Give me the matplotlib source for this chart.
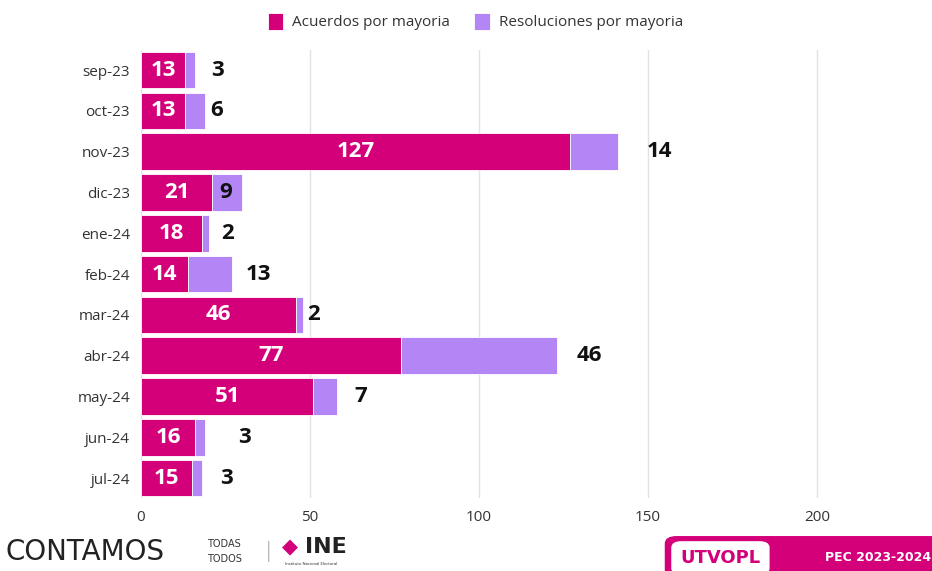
import matplotlib.pyplot as plt
from matplotlib.patches import FancyBboxPatch

months = ['sep-23', 'oct-23', 'nov-23', 'dic-23', 'ene-24', 'feb-24',
          'mar-24', 'abr-24', 'may-24', 'jun-24', 'jul-24']
acuerdos = [13, 13, 127, 21, 18, 14, 46, 77, 51, 16, 15]
resoluciones = [3, 6, 14, 9, 2, 13, 2, 46, 7, 3, 3]
x_ticks = [0, 50, 100, 150, 200]

# pixel nudges for the black labels (they don't sit at a fixed spot in the original)
res_label_dx = [22, 11, 42, -17, 19, 26, 10, 33, 24, 39, 25]

PINK = '#D4007A'
PURPLE = '#B486F5'

plt.rcParams['font.family'] = ['Open Sans', 'DejaVu Sans']

fig = plt.figure(figsize=(9.32, 5.71), dpi=100)
ax = fig.add_axes([141 / 932, 0.127, 1 - 141 / 932, 0.786])

y = list(range(len(months)))
ax.barh(y, acuerdos, height=0.9, color=PINK, edgecolor='white', linewidth=0.6,
        label='Acuerdos por mayoria', zorder=3)
ax.barh(y, resoluciones, left=acuerdos, height=0.9, color=PURPLE,
        edgecolor='white', linewidth=0.6, label='Resoluciones por mayoria', zorder=3)

ax.set_xlim(0, 234)
ax.set_ylim(len(months) - 0.5, -0.5)
ax.set_yticks(y)
ax.set_yticklabels(months, fontsize=11, color='#333333')
ax.set_xticks(x_ticks)
ax.set_xticklabels([str(t) for t in x_ticks], fontsize=11, color='#333333')
ax.tick_params(length=0, pad=8)
ax.grid(axis='x', color='#e2e2e2', linewidth=1, zorder=0)
for s in ax.spines.values():
    s.set_visible(False)

px = 234 / (932 - 141)  # data units per pixel
for i in y:
    ax.text(acuerdos[i] / 2, i, str(acuerdos[i]), ha='center', va='center',
            color='white', fontsize=16, fontweight='bold', zorder=4)
    end = acuerdos[i] + resoluciones[i]
    ax.text(end + res_label_dx[i] * px, i, str(resoluciones[i]), ha='center',
            va='center', color='#111111', fontsize=16, fontweight='bold', zorder=4)

# legend
handles, labels = ax.get_legend_handles_labels()
fig.legend(handles, labels, loc='center', bbox_to_anchor=(0.51, 0.962), ncol=2,
           frameon=False, fontsize=11, handlelength=1.0, handleheight=1.3,
           columnspacing=1.6, handletextpad=0.6, labelcolor='#333333')

# footer
fig.text(0.006, 0.033, 'CONTAMOS', fontsize=20, color='#222222', va='center',
         family='DejaVu Sans')
fig.text(0.222, 0.047, 'TODAS', fontsize=7, color='#333333', va='center',
         family='DejaVu Sans')
fig.text(0.222, 0.021, 'TODOS', fontsize=7, color='#333333', va='center',
         family='DejaVu Sans')
fig.text(0.282, 0.034, '|', fontsize=15, color='#bbbbbb', va='center')
fig.text(0.302, 0.042, '\u25c6', fontsize=15, color=PINK, va='center',
         family='DejaVu Sans')
fig.text(0.327, 0.042, 'INE', fontsize=16, color='#222222', va='center',
         fontweight='bold', family='DejaVu Sans')
fig.text(0.306, 0.012, 'Instituto Nacional Electoral', fontsize=3, color='#222222',
         va='center')

box = FancyBboxPatch((0.714, -0.01), 0.3, 0.07, boxstyle='round,pad=0,rounding_size=0.012',
                     transform=fig.transFigure, facecolor=PINK, edgecolor=PINK,
                     clip_on=False)
fig.patches.append(box)
inner = FancyBboxPatch((0.721, -0.005), 0.104, 0.056,
                       boxstyle='round,pad=0,rounding_size=0.01',
                       transform=fig.transFigure, facecolor='white', edgecolor='white')
fig.patches.append(inner)
fig.text(0.773, 0.023, 'UTVOPL', fontsize=13, color=PINK, fontweight='bold',
         ha='center', va='center', family='DejaVu Sans')
fig.text(0.999, 0.023, 'PEC 2023-2024', fontsize=9, color='white',
         fontweight='bold', ha='right', va='center', family='DejaVu Sans')

fig.savefig('out.png', dpi=100)
